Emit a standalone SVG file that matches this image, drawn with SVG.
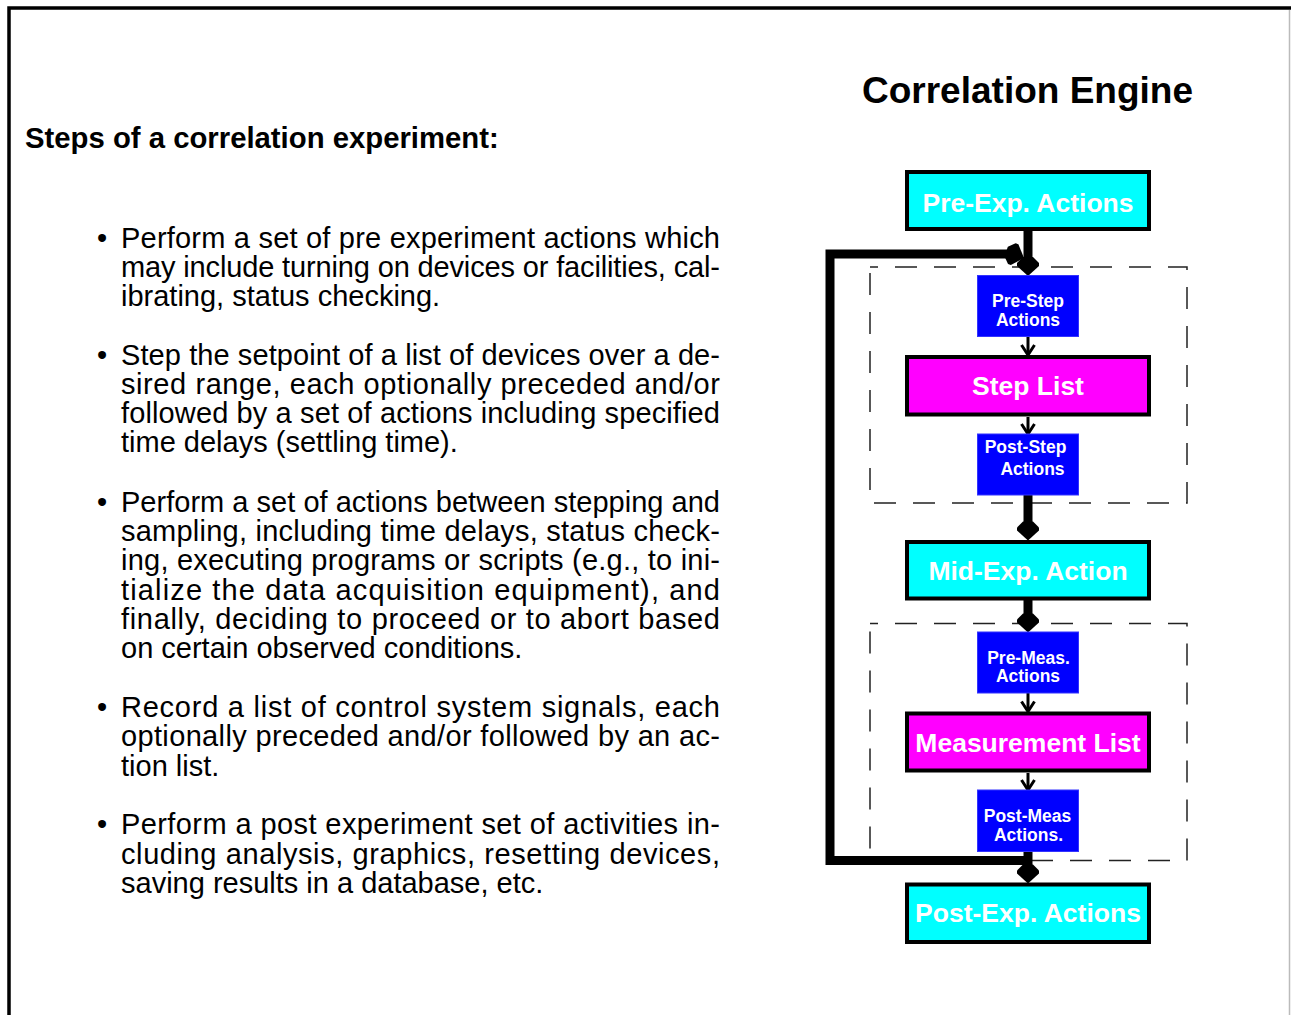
<svg xmlns="http://www.w3.org/2000/svg" width="1291" height="1015" viewBox="0 0 1291 1015">
<style>
  text { font-family: "Liberation Sans", Arial, sans-serif; }
  .body { font-size: 29px; fill: #000; }
  .h { font-weight: bold; fill: #000; }
  .big { font-size: 26.5px; font-weight: bold; fill: #fff; text-anchor: middle; }
  .small { font-size: 17.5px; font-weight: bold; fill: #fff; text-anchor: middle; }
  .cyan { fill: #00ffff; stroke: #000; stroke-width: 4; }
  .mag { fill: #ff00ff; stroke: #000; stroke-width: 4; }
  .blue { fill: #0000ff; stroke: #3333ff; stroke-width: 1; }
  .dash { fill: none; stroke: #222; stroke-width: 1.5; stroke-dasharray: 22 17; stroke-dashoffset: 14; }
  .thick { fill: none; stroke: #000; stroke-width: 9; }
  .thin { fill: none; stroke: #000; stroke-width: 3; }
  .vhead { fill: none; stroke: #000; stroke-width: 3; stroke-linejoin: miter; }
</style>
<defs>
  <path id="bighead" d="M0,0 L-11,-10 L-11,-13 L-5,-19 L5,-19 L11,-13 L11,-10 Z" fill="#000"/>
  <path id="smallhead" d="M-6.5,-10 L0,0 L6.5,-10" class="vhead"/>
</defs>

<g id="frame">
  <rect x="0" y="0" width="1291" height="1015" fill="#fff"/>
  <path d="M9,1015 L9,8 L1291,8" fill="none" stroke="#000" stroke-width="3.5"/>
  <line x1="1289.5" y1="10" x2="1289.5" y2="1015" stroke="#bbb" stroke-width="1.5"/>
</g>

<g id="titles">
  <text class="h" x="862" y="103" font-size="37">Correlation Engine</text>
  <text class="h" x="25" y="148" font-size="29.3">Steps of a correlation experiment:</text>
</g>

<g id="bullets" class="body">
  <text x="97" y="248">•</text>
  <text x="121" y="248" textLength="599" lengthAdjust="spacing">Perform a set of pre experiment actions which</text>
  <text x="121" y="277" textLength="599" lengthAdjust="spacing">may include turning on devices or facilities, cal-</text>
  <text x="121" y="306">ibrating, status checking.</text>

  <text x="97" y="365">•</text>
  <text x="121" y="365" textLength="599" lengthAdjust="spacing">Step the setpoint of a list of devices over a de-</text>
  <text x="121" y="394" textLength="599" lengthAdjust="spacing">sired range, each optionally preceded and/or</text>
  <text x="121" y="423" textLength="599" lengthAdjust="spacing">followed by a set of actions including specified</text>
  <text x="121" y="452">time delays (settling time).</text>

  <text x="97" y="512">•</text>
  <text x="121" y="512" textLength="599" lengthAdjust="spacing">Perform a set of actions between stepping and</text>
  <text x="121" y="541" textLength="599" lengthAdjust="spacing">sampling, including time delays, status check-</text>
  <text x="121" y="570" textLength="599" lengthAdjust="spacing">ing, executing programs or scripts (e.g., to ini-</text>
  <text x="121" y="600" textLength="599" lengthAdjust="spacing">tialize the data acquisition equipment), and</text>
  <text x="121" y="629" textLength="599" lengthAdjust="spacing">finally, deciding to proceed or to abort based</text>
  <text x="121" y="658">on certain observed conditions.</text>

  <text x="97" y="717">•</text>
  <text x="121" y="717" textLength="599" lengthAdjust="spacing">Record a list of control system signals, each</text>
  <text x="121" y="746" textLength="599" lengthAdjust="spacing">optionally preceded and/or followed by an ac-</text>
  <text x="121" y="776">tion list.</text>

  <text x="97" y="834">•</text>
  <text x="121" y="834" textLength="599" lengthAdjust="spacing">Perform a post experiment set of activities in-</text>
  <text x="121" y="864" textLength="599" lengthAdjust="spacing">cluding analysis, graphics, resetting devices,</text>
  <text x="121" y="893">saving results in a database, etc.</text>
</g>

<g id="groups">
  <rect class="dash" x="870" y="267" width="317" height="236"/>
  <rect class="dash" x="870" y="623.5" width="317" height="237"/>
</g>

<g id="connectors">
  <line class="thick" x1="1028" y1="231" x2="1028" y2="262"/>
  <use href="#bighead" x="1028" y="276"/>
  <line class="thick" x1="1028" y1="495" x2="1028" y2="527"/>
  <use href="#bighead" x="1028" y="540.5"/>
  <line class="thick" x1="1028" y1="600" x2="1028" y2="619"/>
  <use href="#bighead" x="1028" y="632.5"/>
  <line class="thick" x1="1028" y1="851" x2="1028" y2="870"/>
  <use href="#bighead" x="1028" y="883.5"/>
  <path class="thick" d="M1032,860.5 L830,860.5 L830,254 L1008,254"/>
  <use href="#bighead" transform="translate(1024,258) rotate(-70)"/>
  <line class="thin" x1="1028" y1="337" x2="1028" y2="353"/>
  <use href="#smallhead" x="1028" y="355"/>
  <line class="thin" x1="1028" y1="417" x2="1028" y2="432"/>
  <use href="#smallhead" x="1028" y="434"/>
  <line class="thin" x1="1028" y1="693" x2="1028" y2="709"/>
  <use href="#smallhead" x="1028" y="711.5"/>
  <line class="thin" x1="1028" y1="773" x2="1028" y2="788"/>
  <use href="#smallhead" x="1028" y="790"/>
</g>

<g id="pre-exp">
  <rect class="cyan" x="907" y="172" width="242" height="57"/>
  <text class="big" x="1028" y="211.5">Pre-Exp. Actions</text>
</g>
<g id="pre-step">
  <rect class="blue" x="977.5" y="275.5" width="101" height="61"/>
  <text class="small" x="1028" y="306.5">Pre-Step</text>
  <text class="small" x="1028" y="325.5">Actions</text>
</g>
<g id="step-list">
  <rect class="mag" x="907" y="357" width="242" height="57.5"/>
  <text class="big" x="1028" y="395">Step List</text>
</g>
<g id="post-step">
  <rect class="blue" x="977.5" y="434" width="101" height="61"/>
  <text class="small" x="1025.5" y="453">Post-Step</text>
  <text class="small" x="1032.5" y="475">Actions</text>
</g>
<g id="mid-exp">
  <rect class="cyan" x="907" y="542" width="242" height="56.5"/>
  <text class="big" x="1028" y="580">Mid-Exp. Action</text>
</g>
<g id="pre-meas">
  <rect class="blue" x="977.5" y="632" width="101" height="61"/>
  <text class="small" x="1028.5" y="664">Pre-Meas.</text>
  <text class="small" x="1028" y="681.5">Actions</text>
</g>
<g id="measurement-list">
  <rect class="mag" x="907" y="713.5" width="242" height="57"/>
  <text class="big" x="1028" y="752">Measurement List</text>
</g>
<g id="post-meas">
  <rect class="blue" x="977.5" y="790" width="101" height="61.5"/>
  <text class="small" x="1027.5" y="822">Post-Meas</text>
  <text class="small" x="1028.5" y="840.5">Actions.</text>
</g>
<g id="post-exp">
  <rect class="cyan" x="907" y="884.5" width="242" height="57.5"/>
  <text class="big" x="1028" y="922">Post-Exp. Actions</text>
</g>
</svg>
